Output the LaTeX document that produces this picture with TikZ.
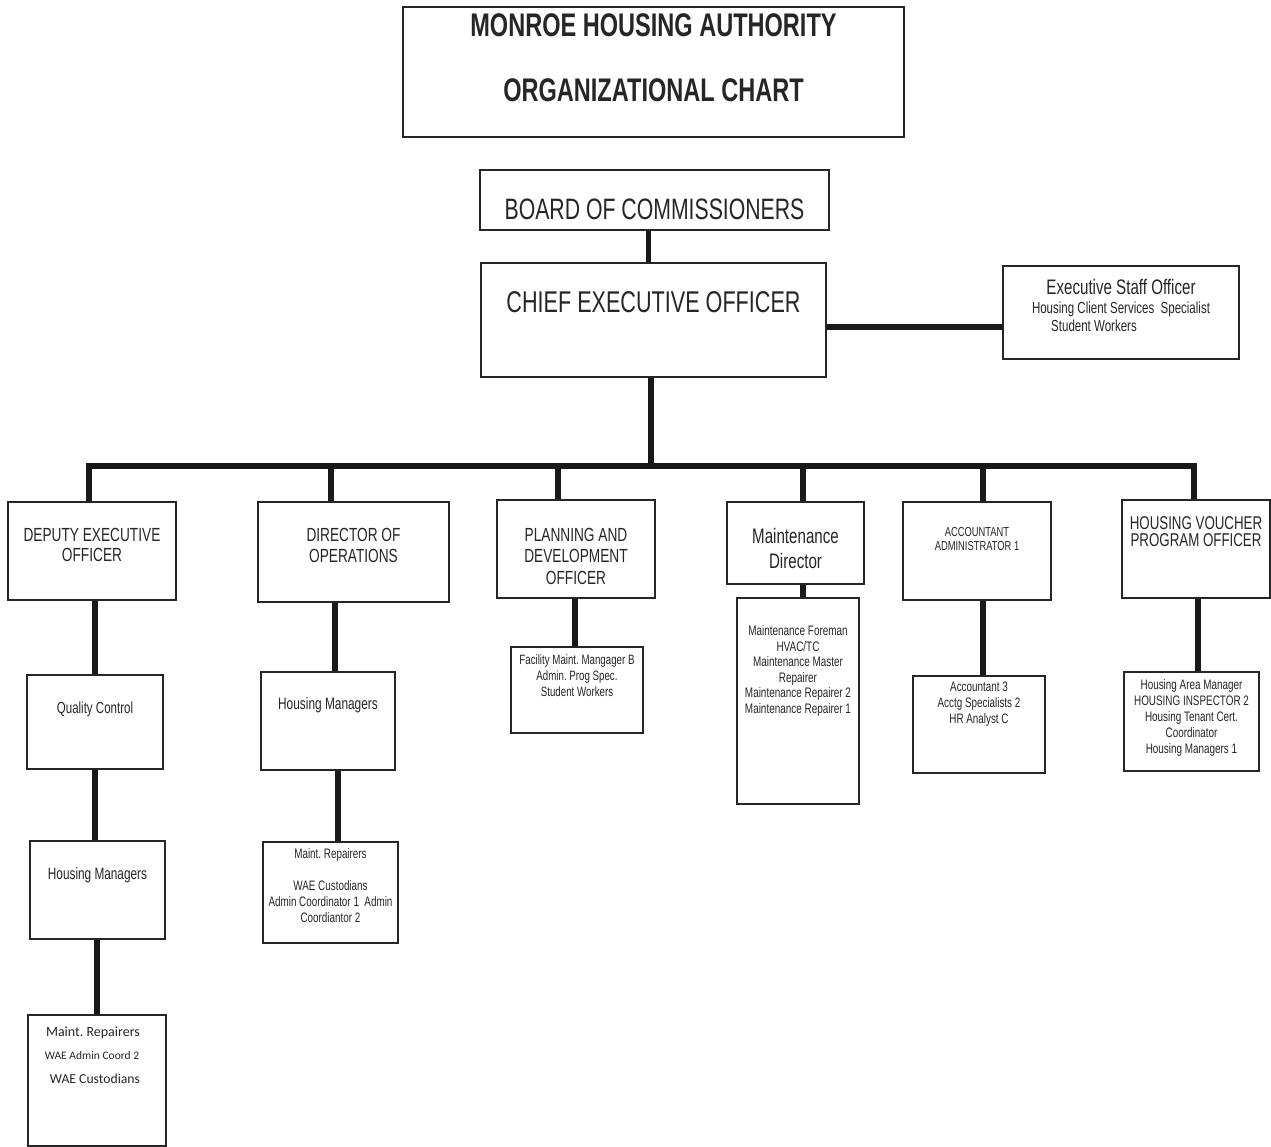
\documentclass[tikz,border=0pt]{standalone}
\usepackage{fontspec}
\setmainfont{Liberation Sans}
\newfontfamily\narrowfont[FakeStretch=0.72]{Liberation Sans}
\newfontfamily\calibfont{Carlito}
\usetikzlibrary{positioning, calc}
\frenchspacing

\newcommand{\fsz}[2]{\narrowfont\fontsize{#1}{#2}\selectfont}
\newcommand{\csz}[2]{\calibfont\fontsize{#1}{#2}\selectfont}

\begin{document}
\begin{tikzpicture}[x=1pt, y=-1pt,
    box/.style={draw=black!85, line width=1.6pt, fill=white, inner sep=0pt},
    txt/.style={align=center, inner sep=0pt, anchor=center, text=black!85},
    conn/.style={line width=5.5pt, black!90}]
    \useasboundingbox (0,0) rectangle (1271,1147);

    % Title
    \node[box, minimum width=501, minimum height=130,
        label={[txt, font=\bfseries\fsz{32.7}{36}, yshift=47]center:{MONROE HOUSING AUTHORITY}},
        label={[txt, font=\bfseries\fsz{32.7}{36}, yshift=-18]center:{ORGANIZATIONAL CHART}}] (title) at (653.5,72) {};

    % Board and CEO
    \node[box, minimum width=349, minimum height=60,
        label={[txt, font=\fsz{29.5}{32}, yshift=-9]center:{BOARD OF COMMISSIONERS}}] (board) at (654.5,200) {};
    \node[box, minimum width=345, minimum height=114,
        label={[txt, font=\fsz{30}{32}, yshift=18]center:{CHIEF EXECUTIVE OFFICER}}] (ceo) at (653.5,320) {};

    % Executive staff
    \node[box, minimum width=236, minimum height=93,
        label={[txt, font=\fsz{21}{24}, yshift=25.5]center:{Executive Staff Officer}},
        label={[txt, font=\fsz{16}{18}, yshift=3.5]center:{Housing Client Services\ \ Specialist}},
        label={[txt, font=\fsz{16}{18}, yshift=-13.5, xshift=-27]center:{Student Workers}}] (exec) at (1121,312.5) {};

    % Second row
    \node[box, minimum width=168, minimum height=98,
        label={[txt, font=\fsz{19}{20}, yshift=6]center:{DEPUTY EXECUTIVE\\OFFICER}}] (dep) at (92,551) {};
    \node[box, minimum width=191, minimum height=100,
        label={[txt, font=\fsz{19}{21}, yshift=6.5]center:{DIRECTOR OF\\OPERATIONS}}] (ops) at (353.5,552) {};
    \node[box, minimum width=158, minimum height=98,
        label={[txt, font=\fsz{19}{21.5}, yshift=-7]center:{PLANNING AND\\DEVELOPMENT\\OFFICER}}] (plan) at (576,549) {};
    \node[box, minimum width=137, minimum height=82,
        label={[txt, font=\fsz{21}{25}, yshift=-5.5]center:{Maintenance\\Director}}] (mdir) at (795.5,543) {};
    \node[box, minimum width=148, minimum height=98,
        label={[txt, font=\fsz{13}{14}, yshift=12]center:{ACCOUNTANT\\ADMINISTRATOR 1}}] (acct) at (977,551) {};
    \node[box, minimum width=148, minimum height=98,
        label={[txt, font=\fsz{18.5}{17}, yshift=17]center:{HOUSING VOUCHER\\PROGRAM OFFICER}}] (hvpo) at (1196,549) {};

    % Third row
    \node[box, minimum width=136, minimum height=94,
        label={[txt, font=\fsz{16}{18}, yshift=13]center:{Quality Control}}] (qc) at (95,722) {};
    \node[box, minimum width=134, minimum height=98,
        label={[txt, font=\fsz{16.5}{18}, yshift=16]center:{Housing Managers}}] (hm1) at (328,721) {};
    \node[box, minimum width=132, minimum height=86,
        label={[txt, font=\fsz{13.5}{16}, yshift=14]center:{Facility Maint. Mangager B\\Admin. Prog Spec.\\Student Workers}}] (plansub) at (577,690) {};
    \node[box, minimum width=122, minimum height=206,
        label={[txt, font=\fsz{13.8}{15.6}, yshift=30]center:{Maintenance Foreman\\HVAC/TC\\Maintenance Master\\Repairer\\Maintenance Repairer 2\\Maintenance Repairer 1}}] (msub) at (798,701) {};
    \node[box, minimum width=132, minimum height=97,
        label={[txt, font=\fsz{13.7}{16}, yshift=20.5]center:{Accountant 3\\Acctg Specialists 2\\HR Analyst C}}] (asub) at (979,724.5) {};
    \node[box, minimum width=135, minimum height=99,
        label={[txt, font=\fsz{13.75}{16}, yshift=3.5]center:{Housing Area Manager\\HOUSING INSPECTOR 2\\Housing Tenant Cert.\\Coordinator\\Housing Managers 1}}] (hsub) at (1191.5,721.5) {};

    % Fourth row
    \node[box, minimum width=135, minimum height=98,
        label={[txt, font=\fsz{16.4}{18}, yshift=15]center:{Housing Managers}}] (hm2) at (97.5,890) {};
    \node[box, minimum width=135, minimum height=101,
        label={[txt, font=\fsz{13.7}{16}, yshift=6.5]center:{Maint. Repairers\\[16pt]WAE Custodians\\Admin Coordinator 1\ \ Admin\\Coordiantor 2}}] (opsub) at (330.5,892.5) {};

    % Fifth row
    \node[box, minimum width=138, minimum height=131,
        label={[txt, font=\csz{14}{16}, yshift=47.5, xshift=-4]center:{Maint. Repairers}},
        label={[txt, font=\csz{11.5}{14}, yshift=24.5, xshift=-5]center:{WAE Admin Coord 2}},
        label={[txt, font=\csz{13.7}{16}, yshift=1.5, xshift=-2]center:{WAE Custodians}}] (dsub) at (97,1080.5) {};

    % Connectors
    \draw[conn] ($(board.south)+(-6,0)$) -- ($(board.south |- ceo.north)+(-6,0)$);
    \draw[conn] ($(ceo.east)+(0,7)$) -- ($(ceo.east -| exec.west)+(0,7)$);
    \coordinate (bus) at (651,466);
    \draw[conn] ($(ceo.south)+(-2.5,0)$) -- ($(ceo.south |- bus)+(-2.5,0)$);
    \foreach \n/\x in {dep/89, ops/331, plan/558, mdir/803, acct/983, hvpo/1194} {
        \coordinate (d-\n) at (\x,466);
        \draw[conn] (d-\n) -- (d-\n |- \n.north);
    }
    \draw[conn, line cap=rect] (d-dep) -- (d-hvpo);
    \foreach \a/\b/\dx in {dep/qc/0, qc/hm2/-2.5, hm2/dsub/0, ops/hm1/7, hm1/opsub/7.5,
        plan/plansub/-2, mdir/msub/5, acct/asub/4, hvpo/hsub/6.5}
        \draw[conn] ($(\b.north)+(\dx,0)$) -- ($(\b.north |- \a.south)+(\dx,0)$);
\end{tikzpicture}
\end{document}
